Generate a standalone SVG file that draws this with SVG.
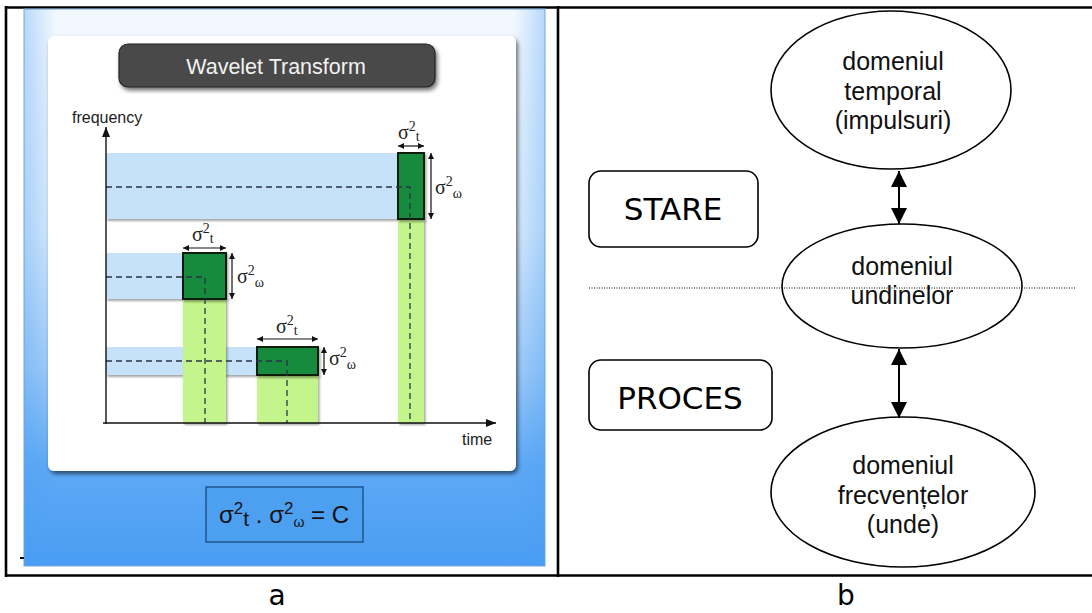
<svg xmlns="http://www.w3.org/2000/svg" width="1092" height="613" viewBox="0 0 1092 613">
  <style>
    .frame { stroke: #000; stroke-width: 2.6; fill: none; }
    .band { fill: #c6e2fb; }
    .col { fill: #c4f58c; }
    .cell { fill: #158a3e; stroke: #0a1a0f; stroke-width: 2; }
    .dash { stroke: #2a3646; stroke-width: 1.3; stroke-dasharray: 6 4; fill: none; }
    .dim { stroke: #111; stroke-width: 1.2; fill: none; marker-start: url(#tipS); marker-end: url(#tipS); }
    .sig { font-family: "Liberation Serif", serif; font-size: 20px; fill: #222; }
    .sub { font-size: 14px; }
    .axis-label { font-family: "Liberation Sans", Arial, sans-serif; font-size: 16px; fill: #222; }
    .node { fill: #fff; stroke: #000; stroke-width: 1.6; }
    .node-text { font-family: "Liberation Sans", Arial, sans-serif; font-size: 25px; fill: #111; text-anchor: middle; }
    .tag { fill: #fff; stroke: #000; stroke-width: 1.6; }
    .tag-text { font-family: "DejaVu Sans", sans-serif; font-size: 31px; fill: #000; text-anchor: middle; }
    .link { stroke: #000; stroke-width: 2; fill: none; marker-start: url(#tipL); marker-end: url(#tipL); }
    .caption { font-family: "DejaVu Sans", sans-serif; font-size: 28px; fill: #000; text-anchor: middle; }
  </style>
  <defs>
    <linearGradient id="panelFill" x1="0" y1="0" x2="0" y2="1">
      <stop offset="0" stop-color="#f3f8fe"/>
      <stop offset="0.4" stop-color="#d9ebfc"/>
      <stop offset="0.65" stop-color="#9fcbf8"/>
      <stop offset="0.82" stop-color="#5ea9f5"/>
      <stop offset="1" stop-color="#4a9df3"/>
    </linearGradient>
    <linearGradient id="panelEdge" x1="0" y1="0" x2="1" y2="0">
      <stop offset="0" stop-color="#4a9df3" stop-opacity="0.35"/>
      <stop offset="0.06" stop-color="#4a9df3" stop-opacity="0"/>
      <stop offset="0.94" stop-color="#4a9df3" stop-opacity="0"/>
      <stop offset="1" stop-color="#4a9df3" stop-opacity="0.35"/>
    </linearGradient>
    <filter id="shadow" x="-5%" y="-5%" width="115%" height="120%">
      <feDropShadow dx="2" dy="3" stdDeviation="2" flood-color="#000" flood-opacity="0.55"/>
    </filter>
    <filter id="softShadow" x="-5%" y="-20%" width="115%" height="150%">
      <feDropShadow dx="1.5" dy="2" stdDeviation="1.2" flood-color="#000" flood-opacity="0.35"/>
    </filter>
    <marker id="tipS" viewBox="0 0 8 8" refX="8" refY="4" markerWidth="6" markerHeight="6" markerUnits="userSpaceOnUse" orient="auto-start-reverse">
      <path d="M0,0 L8,4 L0,8 z" fill="#111"/>
    </marker>
    <marker id="tipL" viewBox="0 0 16 16" refX="16" refY="8" markerWidth="16" markerHeight="16" markerUnits="userSpaceOnUse" orient="auto-start-reverse">
      <path d="M0,0 L16,8 L0,16 z" fill="#000"/>
    </marker>
    <marker id="axisTip" viewBox="0 0 10 8" refX="10" refY="4" markerWidth="11" markerHeight="8" markerUnits="userSpaceOnUse" orient="auto">
      <path d="M0,0 L10,4 L0,8 z" fill="#111"/>
    </marker>
  </defs>

  <rect width="1092" height="613" fill="#fff"/>

  <!-- outer table frame -->
  <g id="table">
    <line class="frame" x1="5" y1="7.5" x2="1092" y2="7.5"/>
    <line class="frame" x1="6" y1="6" x2="6" y2="577"/>
    <line class="frame" x1="558" y1="6" x2="558" y2="577"/>
    <line class="frame" x1="5" y1="575.5" x2="1092" y2="575.5"/>
  </g>

  <!-- panel a: time-frequency tiling of the wavelet transform -->
  <g id="panel-a">
    <rect x="24" y="9" width="521" height="557" fill="url(#panelFill)" stroke="#7aa8d8" stroke-width="1"/>
    <rect x="24" y="9" width="521" height="557" fill="url(#panelEdge)"/>
    <line x1="20" y1="558" x2="24" y2="558" stroke="#000" stroke-width="2"/>

    <rect x="48" y="36" width="468" height="435" rx="6" fill="#fff" filter="url(#shadow)"/>

    <g id="title">
      <rect x="119" y="44" width="316" height="43" rx="9" fill="#4a4a4a" stroke="#222" stroke-width="1.2" filter="url(#shadow)"/>
      <text x="276" y="74" text-anchor="middle" font-family="Liberation Sans, Arial, sans-serif" font-size="21.5" fill="#f2f2f2">Wavelet Transform</text>
    </g>

    <!-- frequency bands -->
    <g filter="url(#softShadow)">
      <rect class="band" x="106" y="153" width="292" height="66"/>
      <rect class="band" x="106" y="253" width="77" height="46"/>
      <rect class="band" x="106" y="347" width="151" height="28"/>
    </g>
    <!-- time columns -->
    <g filter="url(#softShadow)">
      <rect class="col" x="398" y="219" width="26" height="204"/>
      <rect class="col" x="183" y="299" width="43" height="124"/>
      <rect class="col" x="257" y="375" width="61" height="48"/>
    </g>
    <!-- tiles -->
    <g filter="url(#softShadow)">
      <rect class="cell" x="398" y="153" width="26" height="66"/>
      <rect class="cell" x="183" y="253" width="43" height="46"/>
      <rect class="cell" x="257" y="347" width="61" height="28"/>
    </g>

    <!-- centre guides -->
    <path class="dash" d="M106,187 H410 V423"/>
    <path class="dash" d="M106,277 H205 V423"/>
    <path class="dash" d="M106,361 H287 V423"/>

    <!-- axes -->
    <line x1="106" y1="424" x2="106" y2="127" stroke="#111" stroke-width="1.4" marker-end="url(#axisTip)"/>
    <line x1="103" y1="423" x2="496" y2="423" stroke="#111" stroke-width="1.4" marker-end="url(#axisTip)"/>
    <text class="axis-label" x="72" y="123">frequency</text>
    <text class="axis-label" x="462" y="445">time</text>

    <!-- spread markers -->
    <line class="dim" x1="398" y1="146" x2="424" y2="146"/>
    <line class="dim" x1="431" y1="153" x2="431" y2="219"/>
    <text class="sig" x="398" y="139">σ<tspan class="sub" dy="-8">2</tspan><tspan class="sub" dy="10">t</tspan></text>
    <text class="sig" x="435" y="194">σ<tspan class="sub" dy="-8">2</tspan><tspan class="sub" dy="12">ω</tspan></text>

    <line class="dim" x1="183" y1="248" x2="226" y2="248"/>
    <line class="dim" x1="232" y1="253" x2="232" y2="299"/>
    <text class="sig" x="192" y="241">σ<tspan class="sub" dy="-8">2</tspan><tspan class="sub" dy="10">t</tspan></text>
    <text class="sig" x="237" y="283">σ<tspan class="sub" dy="-8">2</tspan><tspan class="sub" dy="12">ω</tspan></text>

    <line class="dim" x1="257" y1="339" x2="318" y2="339"/>
    <line class="dim" x1="324" y1="347" x2="324" y2="375"/>
    <text class="sig" x="276" y="333">σ<tspan class="sub" dy="-8">2</tspan><tspan class="sub" dy="10">t</tspan></text>
    <text class="sig" x="329" y="365">σ<tspan class="sub" dy="-8">2</tspan><tspan class="sub" dy="12">ω</tspan></text>

    <!-- uncertainty relation -->
    <g id="formula">
      <rect x="206" y="487" width="157" height="55" fill="#4d9ff0" stroke="#1d4f85" stroke-width="1.4"/>
      <text x="219" y="523" font-family="Liberation Sans, Arial, sans-serif" font-size="24" fill="#111">σ<tspan font-size="17" dy="-9">2</tspan><tspan font-size="21" dy="12">t</tspan><tspan dy="-3"> . σ</tspan><tspan font-size="17" dy="-9">2</tspan><tspan font-size="14" dy="13">ω</tspan><tspan dy="-4"> = C</tspan></text>
    </g>
  </g>

  <!-- panel b: domains -->
  <g id="panel-b">
    <line x1="589" y1="288" x2="1076" y2="288" stroke="#000" stroke-width="1" stroke-dasharray="1 1.5"/>

    <g id="node-temporal">
      <ellipse class="node" cx="891" cy="90" rx="120" ry="79" fill-opacity="0"/>
      <text class="node-text" x="893" y="70">domeniul</text>
      <text class="node-text" x="893" y="100">temporal</text>
      <text class="node-text" x="893" y="129">(impulsuri)</text>
    </g>

    <g id="node-undine">
      <ellipse class="node" cx="902" cy="286" rx="120" ry="62" fill-opacity="0"/>
      <text class="node-text" x="902" y="275">domeniul</text>
      <text class="node-text" x="902" y="304">undinelor</text>
    </g>

    <g id="node-frecvente">
      <ellipse class="node" cx="903" cy="492" rx="132" ry="75"/>
      <text class="node-text" x="903" y="474">domeniul</text>
      <text class="node-text" x="903" y="504">frecvențelor</text>
      <text class="node-text" x="903" y="533">(unde)</text>
    </g>

    <g id="tag-stare">
      <rect class="tag" x="589" y="171" width="169" height="76" rx="12"/>
      <text class="tag-text" x="673" y="220">STARE</text>
    </g>

    <g id="tag-proces">
      <rect class="tag" x="589" y="360" width="183" height="70" rx="12"/>
      <text class="tag-text" x="680" y="409">PROCES</text>
    </g>

    <g id="connectors">
      <line class="link" x1="899" y1="171" x2="899" y2="224"/>
      <line class="link" x1="899" y1="349" x2="899" y2="418"/>
    </g>
  </g>

  <!-- captions -->
  <text class="caption" x="277" y="605">a</text>
  <text class="caption" x="846" y="605">b</text>
</svg>
